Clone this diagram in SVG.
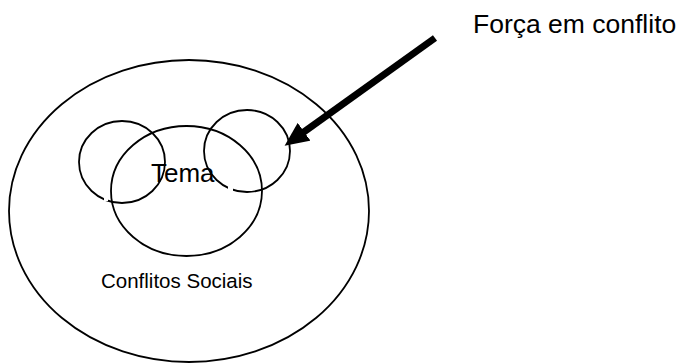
<svg xmlns="http://www.w3.org/2000/svg" width="683" height="363" viewBox="0 0 683 363">
  <style>
    .shape { fill: none; stroke: #000; stroke-width: 1.8; }
    .gap { fill: #fff; }
    .lbl { font-family: "Liberation Sans", Arial, sans-serif; fill: #000; }
  </style>
  <defs>
    <marker id="head" viewBox="0 0 24 22" markerWidth="24" markerHeight="22" markerUnits="userSpaceOnUse" refX="1" refY="11" orient="auto">
      <path d="M0,0 L24,11 L0,22 z" fill="#000"/>
    </marker>
  </defs>
  <rect width="683" height="363" fill="#fff"/>
  <g id="conflitos-sociais">
    <ellipse class="shape" cx="189" cy="211" rx="180" ry="151"/>
    <text class="lbl" x="101" y="288" font-size="20.5">Conflitos Sociais</text>
  </g>
  <g id="forca-esquerda">
    <ellipse class="shape" cx="122" cy="162" rx="43" ry="41"/>
    <rect class="gap" x="104" y="195" width="4" height="6"/>
  </g>
  <g id="forca-direita">
    <ellipse class="shape" cx="247" cy="151" rx="43" ry="41"/>
    <rect class="gap" x="228" y="186" width="5" height="6"/>
  </g>
  <g id="tema">
    <ellipse class="shape" cx="186.5" cy="191" rx="75.5" ry="65"/>
    <text class="lbl" x="151" y="182" font-size="26">Tema</text>
  </g>
  <g id="forca-label">
    <text class="lbl" x="473" y="33" font-size="26.5">Força em conflito</text>
  </g>
  <g id="connectors">
    <line x1="435" y1="38" x2="303.3" y2="132.4" stroke="#000" stroke-width="7" marker-end="url(#head)"/>
  </g>
</svg>
